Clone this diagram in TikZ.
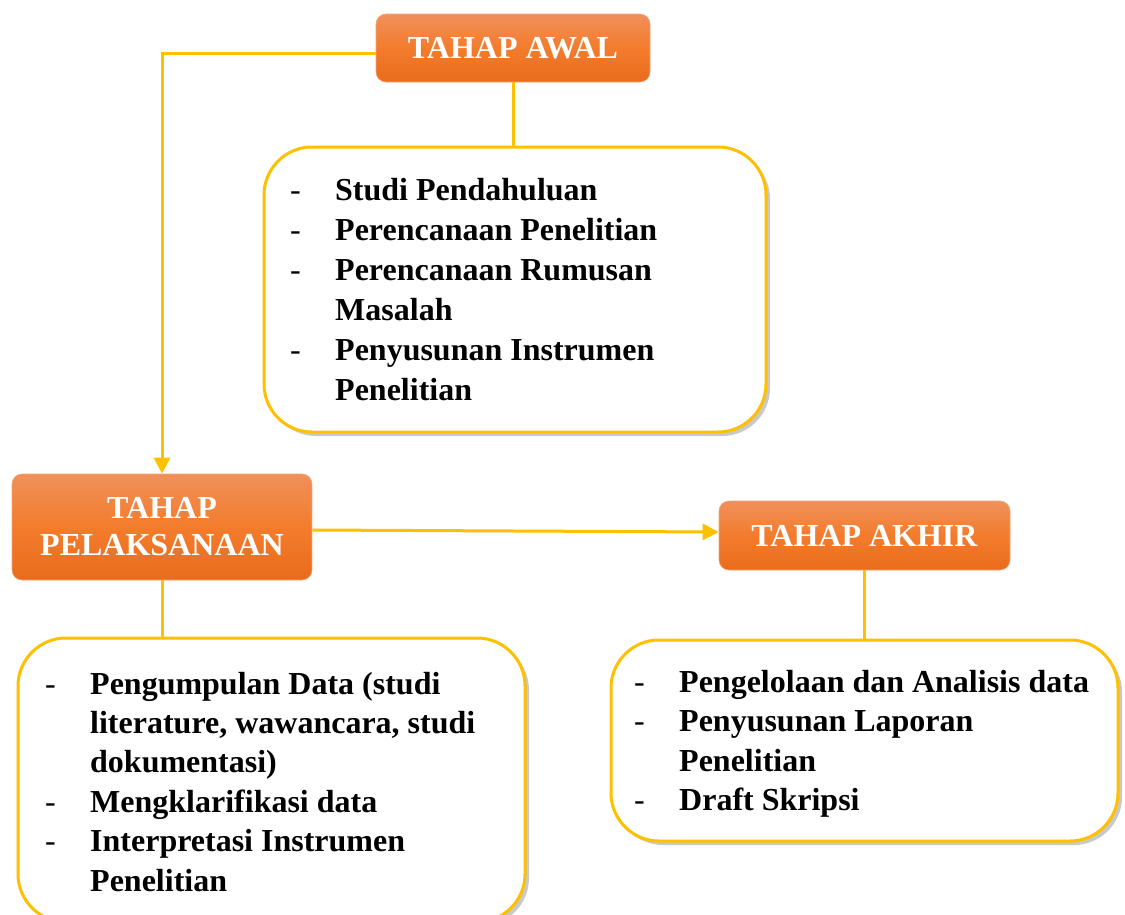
\documentclass[tikz,border=0pt]{standalone}
\usepackage{fontspec}
\setmainfont{Liberation Serif}
\usetikzlibrary{arrows.meta,shadows,calc}
\definecolor{ylw}{HTML}{FFC000}
\definecolor{orT}{HTML}{F0905A}
\definecolor{orM}{HTML}{F37C2C}
\definecolor{orB}{HTML}{E86C1C}
\definecolor{orL}{HTML}{F3A57A}
\newcommand{\itm}[1]{\makebox[45pt][l]{\mdseries -}#1}
\newcommand{\cnt}[1]{\hspace*{45pt}#1}
\begin{document}
\begin{tikzpicture}[x=1pt,y=-1pt,
 phase/.style={rounded corners=10pt, top color=orT, bottom color=orB, middle color=orM, draw=orL, line width=0.6pt, text=white, font=\fontsize{32}{37}\selectfont\bfseries, align=center, inner sep=0},
 card/.style={rounded corners=48pt, draw=ylw, line width=3pt, fill=white, drop shadow={shadow xshift=4pt, shadow yshift=-4pt, opacity=0.35, fill=black!60}},
 list/.style={font=\fontsize{32}{40}\selectfont\bfseries, inner sep=0, anchor=base west},
 link/.style={draw=ylw, line width=3pt},
 tip/.style={-{Triangle[length=16pt,width=16pt]}}
]
\useasboundingbox (0,0) rectangle (1125,914);
\clip (0,0) rectangle (1125,914);
\fill[white] (0,0) rectangle (1125,914);

\node[card, minimum width=502pt, minimum height=285pt] (c1) at (515,289.5) {};
\node[card, minimum width=507pt, minimum height=284pt] (c2) at (271.5,780) {};
\node[card, minimum width=507pt, minimum height=201pt] (c3) at (864.5,740.5) {};

\node[phase, minimum width=274pt, minimum height=68pt] (awal) at (513,48) {TAHAP AWAL};
\node[phase, minimum width=300pt, minimum height=106pt] (pel) at (162,527) {TAHAP\\PELAKSANAAN};
\node[phase, minimum width=291pt, minimum height=69pt] (akhir) at (864.5,535.5) {TAHAP AKHIR};

\draw[link,tip] ([yshift=-5pt]awal.west) -| (pel.north);
\draw[link] (awal.south) -- (awal.south |- c1.north);
\draw[link,tip] ([yshift=-3pt]pel.east) -- ([yshift=3.5pt]akhir.west);
\draw[link] (pel.south) -- (pel.south |- c2.north);
\draw[link] (akhir.south) -- (akhir.south |- c3.north);

\foreach \t [count=\i] in {\itm{Studi Pendahuluan}, \itm{Perencanaan Penelitian}, \itm{Perencanaan Rumusan}, \cnt{Masalah}, \itm{Penyusunan Instrumen}, \cnt{Penelitian}}
  \node[list] (a\i) at (290, 200+40*\i-40) {\t};

\foreach \t [count=\i] in {\itm{Pengumpulan Data (studi}, {\cnt{literature, wawancara, studi}}, \cnt{dokumentasi)}, \itm{Mengklarifikasi data}, \itm{Interpretasi Instrumen}, \cnt{Penelitian}}
  \node[list] (b\i) at (45, 694+39.4*\i-39.4) {\t};

\foreach \t [count=\i] in {\itm{Pengelolaan dan Analisis data}, \itm{Penyusunan Laporan}, \cnt{Penelitian}, \itm{Draft Skripsi}}
  \node[list] (k\i) at (634, 692+39.6*\i-39.6) {\t};
\end{tikzpicture}
\end{document}
